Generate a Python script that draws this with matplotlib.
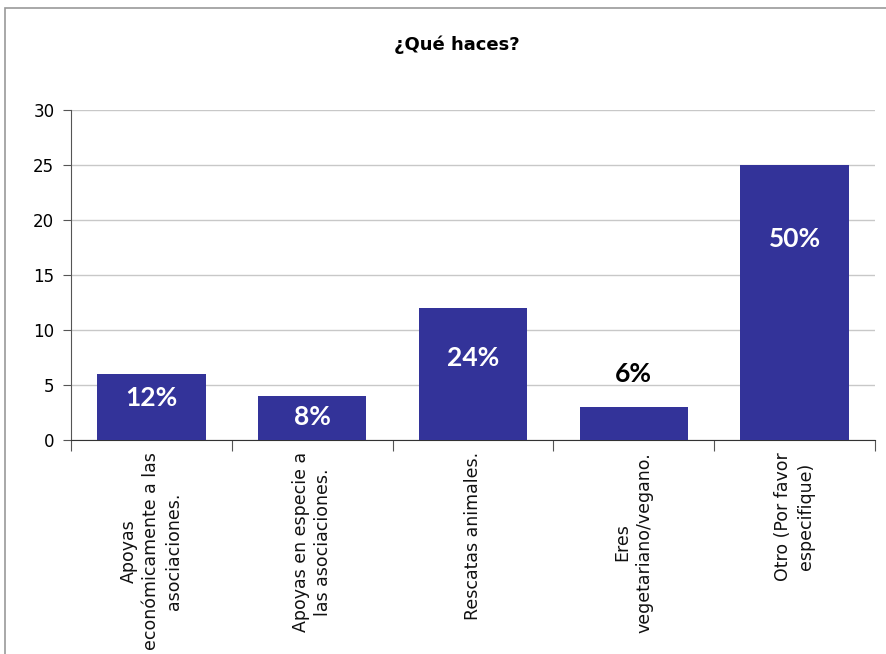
import numpy as np
import matplotlib.pyplot as plt
from matplotlib.patches import Rectangle

# data
categories = [
    "Apoyas\neconómicamente a las\nasociaciones.",
    "Apoyas en especie a\nlas asociaciones.",
    "Rescatas animales.",
    "Eres\nvegetariano/vegano.",
    "Otro (Por favor\nespecifique)",
]
counts = [6, 4, 12, 3, 25]
percent_labels = ["12%", "8%", "24%", "6%", "50%"]
label_inside = [True, True, True, False, True]

bar_color = "#333399"
# where each percentage sits, as fraction of its bar height (hand placed in original)
label_frac = [0.63, 0.53, 0.62, 1.0, 0.73]

fig = plt.figure(figsize=(8.87, 6.54), dpi=100)
ax = fig.add_axes([71 / 887, 1 - 440 / 654, 804 / 887, 330 / 654])

x = np.arange(len(categories))
bars = ax.bar(x, counts, width=0.675, color=bar_color, zorder=3)

ax.set_xlim(-0.5, len(categories) - 0.5)
ax.set_ylim(0, 30)
ax.set_yticks(range(0, 31, 5))
ax.tick_params(axis="y", labelsize=12, length=6, color="#555555", pad=6)
ax.grid(axis="y", color="#c8c8c8", linewidth=1, zorder=0)

# category ticks sit between the bars
ax.set_xticks(np.arange(-0.5, len(categories), 1.0))
ax.set_xticklabels([])
ax.tick_params(axis="x", length=8, color="#555555")
for xi, lab in zip(x, categories):
    ax.text(xi, -1.1, lab, rotation=90, ha="center", va="top",
            multialignment="center", fontsize=12.5, linespacing=1.3,
            color="#111111", clip_on=False)

for s in ["top", "right"]:
    ax.spines[s].set_visible(False)
ax.spines["left"].set_color("#555555")
ax.spines["bottom"].set_color("#333333")

# percentage labels
for b, txt, inside, fr in zip(bars, percent_labels, label_inside, label_frac):
    cx = b.get_x() + b.get_width() / 2
    h = b.get_height()
    if inside:
        ax.text(cx, h * fr, txt, ha="center", va="center", color="white",
                fontsize=19, fontweight="bold", family="Lato", zorder=4)
    else:
        ax.text(cx, h + 3.0, txt, ha="center", va="center", color="black",
                fontsize=19, fontweight="bold", family="Lato", zorder=4)

fig.text(457 / 887, 1 - 45 / 654, "¿Qué haces?", ha="center", va="center",
         fontsize=13, fontweight="bold")

# chart area border
fig.patches.append(Rectangle((5 / 887, -0.1), 1.1, 1 - 8 / 654 + 0.1,
                             transform=fig.transFigure, fill=False,
                             edgecolor="#999999", linewidth=1.2))

fig.savefig("out.png", dpi=100)
